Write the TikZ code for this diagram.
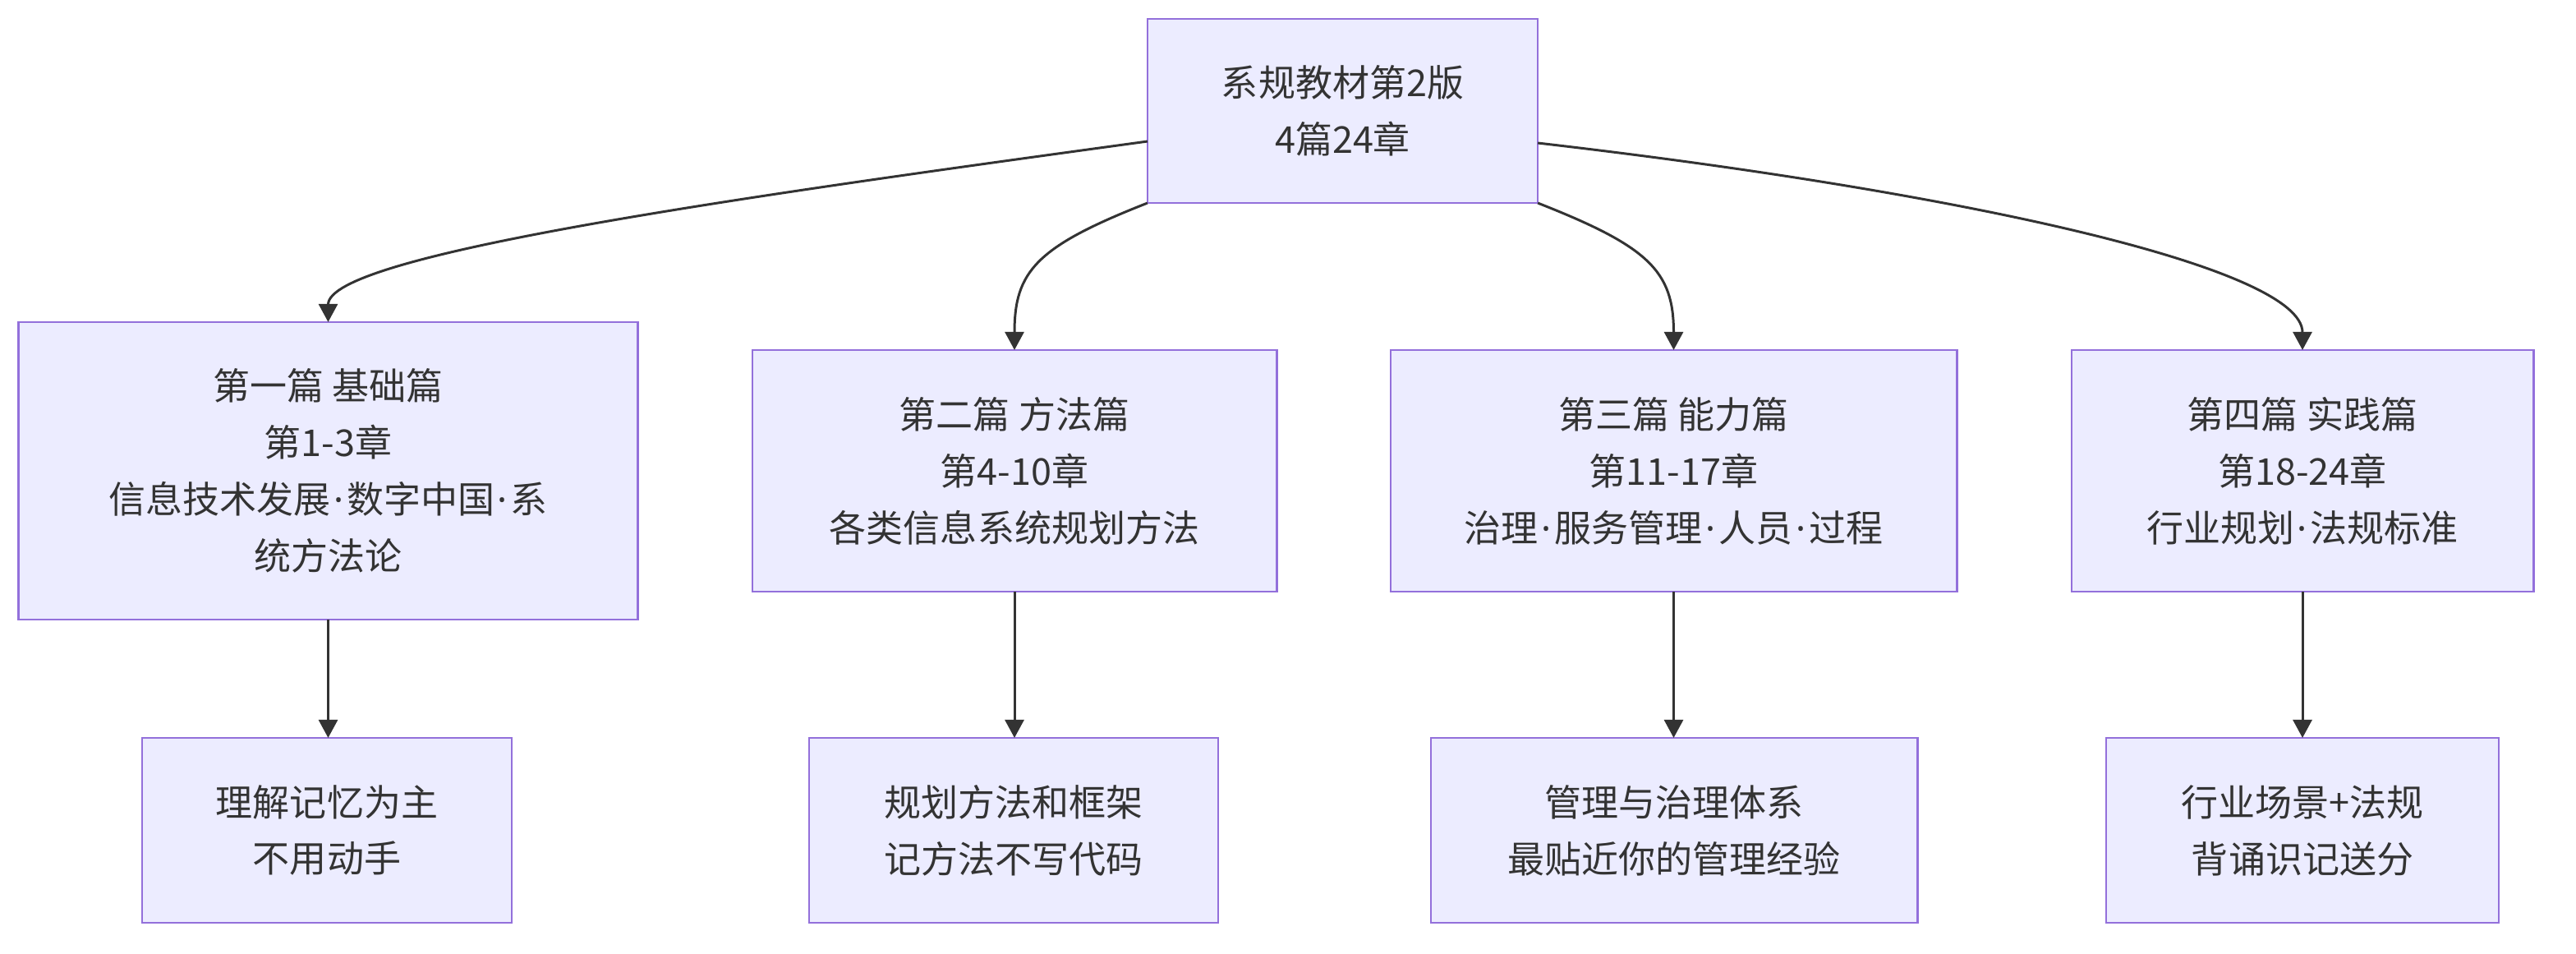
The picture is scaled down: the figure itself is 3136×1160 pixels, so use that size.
\documentclass[tikz,border=0pt]{standalone}
\usepackage{fontspec}
\setmainfont{Noto Sans CJK SC}
\newfontfamily\dotfont{Noto Sans}
\usepackage{tikz}
\usetikzlibrary{arrows.meta}
\definecolor{boxfill}{HTML}{ECECFF}
\definecolor{boxline}{HTML}{9370DB}
\definecolor{ink}{HTML}{333333}
\newcommand{\partdot}{\makebox[0.44em]{\dotfont ·}}

\begin{document}
\begin{tikzpicture}[x=0.01cm, y=-0.01cm,
  part/.style={draw=boxline, fill=boxfill, line width=0.75pt, text=ink, align=center,
    inner sep=0pt, outer sep=0pt, font=\fontsize{12.8pt}{19.6pt}\selectfont},
  arr/.style={draw=ink, line width=0.85pt, -{Triangle[length=0.22cm, width=0.23cm]}}]
\useasboundingbox (0,0) rectangle (3136,1160);
%\draw [help lines] (0,0) grid [step=1cm] (3136,1160);
\node [part, minimum width=4.75cm, minimum height=2.24cm] (root) at (1634.5,135) {系规教材第2版\\4篇24章};
\node [part, minimum width=7.53cm, minimum height=3.62cm] (b1) at (399.5,573) {第一篇 基础篇\\第1-3章\\信息技术发展\partdot 数字中国\partdot 系\\统方法论};
\node [part, minimum width=6.38cm, minimum height=2.94cm] (b2) at (1235,573) {第二篇 方法篇\\第4-10章\\各类信息系统规划方法};
\node [part, minimum width=6.89cm, minimum height=2.94cm] (b3) at (2037.5,573) {第三篇 能力篇\\第11-17章\\治理\partdot 服务管理\partdot 人员\partdot 过程};
\node [part, minimum width=5.62cm, minimum height=2.94cm] (b4) at (2803,573) {第四篇 实践篇\\第18-24章\\行业规划\partdot 法规标准};
\node [part, minimum width=4.50cm, minimum height=2.25cm] (l1) at (398,1010.5) {理解记忆为主\\不用动手};
\node [part, minimum width=4.98cm, minimum height=2.25cm] (l2) at (1234,1010.5) {规划方法和框架\\记方法不写代码};
\node [part, minimum width=5.92cm, minimum height=2.25cm] (l3) at (2038,1010.5) {管理与治理体系\\最贴近你的管理经验};
\node [part, minimum width=4.78cm, minimum height=2.25cm] (l4) at (2803,1010.5) {行业场景+法规\\背诵识记送分};
\draw [arr] ([yshift=-0.37cm]root.west) .. controls +(-497,68) and +(0,-82) .. (b1.north);
\draw [arr] (root.south west) .. controls +(-135,53) and +(0,-96) .. (b2.north);
\draw [arr] (root.south east) .. controls +(135,53) and +(0,-96) .. (b3.north);
\draw [arr] ([yshift=-0.39cm]root.east) .. controls +(520,60) and +(0,-100) .. (b4.north);
\draw [arr] (b1.south) -- (b1.south |- l1.north);
\draw [arr] (b2.south) -- (b2.south |- l2.north);
\draw [arr] (b3.south) -- (b3.south |- l3.north);
\draw [arr] (b4.south) -- (b4.south |- l4.north);
\end{tikzpicture}
\end{document}
